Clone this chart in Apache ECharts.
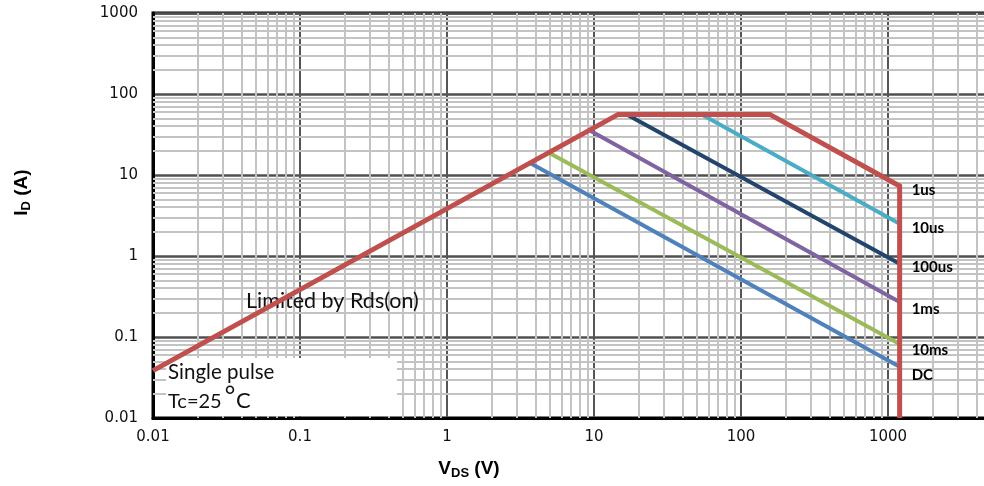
<!DOCTYPE html>
<html>
<head>
<meta charset="utf-8">
<script src="https://cdn.jsdelivr.net/npm/echarts@6/dist/echarts.min.js"></script>
<style>
  html, body { margin: 0; padding: 0; background: #fff; }
  #chart { width: 984px; height: 486px; }
</style>
</head>
<body>
<div id="chart"></div>
<script>
// Safe operating area, single pulse, Tc = 25 °C (log–log)

// Boundary limited by Rds(on), max current and power
const limitV = [0.01, 14.6, 157, 1200, 1200];
const limitI = [0.0385, 56, 56, 7.3, 0.01];

// Pulse-width lines: [start, end]
const us10V = [54, 1200];
const us10I = [56, 2.5];
const us100V = [16.7, 1200];
const us100I = [56, 0.8];
const ms1V = [9.5, 1200];
const ms1I = [35, 0.27];
const ms10V = [4.9, 1200];
const ms10I = [19, 0.082];
const dcV = [3.7, 1200];
const dcI = [14, 0.043];

const curveLabels = ['1us', '10us', '100us', '1ms', '10ms', 'DC'];
const curveColors = ['#C0504D', '#4BACC6', '#23446C', '#8064A2', '#9BBB59', '#4F81BD'];

// Decade grid
const xMin = 0.01, xMax = 10000;
const yMin = 0.01, yMax = 1000;

// Minor grid positions (2..9 in each decade)
const minorMult = [2, 3, 4, 5, 6, 7, 8, 9];
const xDecades = [0.01, 0.1, 1, 10, 100, 1000];
const yDecades = [0.01, 0.1, 1, 10, 100];

const minorX = [];
xDecades.forEach(d => minorMult.forEach(m => minorX.push(+(d * m).toPrecision(3))));
const minorY = [];
yDecades.forEach(d => minorMult.forEach(m => minorY.push(+(d * m).toPrecision(3))));

function pairs(xs, ys) { return xs.map((x, i) => [x, ys[i]]); }

const labelStyle = {
  fontFamily: 'Lato', fontWeight: 'bold', fontSize: 15, color: '#000',
  align: 'left', verticalAlign: 'middle'
};

function curve(name, xs, ys, color, width, labelIdx, label, dy) {
  const data = pairs(xs, ys).map((p, i) => {
    if (i !== labelIdx) return p;
    return {
      value: p,
      label: Object.assign({ show: true, position: [12, dy], formatter: label }, labelStyle)
    };
  });
  return {
    name, type: 'line', data, z: 10,
    symbol: 'circle', symbolSize: 0.01, showSymbol: true,
    itemStyle: { color },
    lineStyle: { color, width, cap: 'butt', join: 'miter' },
    label: { show: false },
    labelLayout: { hideOverlap: false },
    animation: false
  };
}

const titleRich = {
  v: { fontFamily: 'Liberation Sans', fontWeight: 'bold', fontSize: 19, color: '#000' },
  s: { fontFamily: 'Liberation Sans', fontWeight: 'bold', fontSize: 13, color: '#000', verticalAlign: 'bottom', padding: [9, 0, 0, 0] }
};

const chart = echarts.init(document.getElementById('chart'));
chart.setOption({
  animation: false,
  backgroundColor: '#fff',
  grid: {
    left: 153, top: 13, right: -51, bottom: 68,
    outerBoundsMode: 'none', containLabel: false,
    show: true, backgroundColor: '#fff', borderColor: '#000', borderWidth: 3
  },
  xAxis: {
    type: 'log', min: xMin, max: xMax, logBase: 10,
    axisLine: { show: true, lineStyle: { color: '#000', width: 3 } },
    axisTick: { show: false },
    axisLabel: {
      margin: 12, fontFamily: 'DejaVu Sans', fontSize: 15, color: '#111',
      formatter: v => (v > 1000 ? '' : String(v))
    },
    splitLine: { show: true, lineStyle: { color: '#555', width: 2 } },
    name: '{v|V}{s|DS}{v| (V)}',
    nameLocation: 'middle', nameGap: 40,
    nameTextStyle: { padding: [0, 250, 0, 0], rich: titleRich }
  },
  yAxis: {
    type: 'log', min: yMin, max: yMax, logBase: 10,
    axisLine: { show: true, lineStyle: { color: '#000', width: 3 } },
    axisTick: { show: false },
    axisLabel: {
      margin: 15, fontFamily: 'DejaVu Sans', fontSize: 15, color: '#111',
      formatter: v => String(v)
    },
    splitLine: { show: true, lineStyle: { color: '#505050', width: 2.5 } },
    name: '{v|I}{s|D}{v| (A)}',
    nameLocation: 'middle', nameGap: 120, nameRotate: 90,
    nameTextStyle: { padding: [0, 0, 0, 46], rich: titleRich }
  },
  graphic: [
    { type: 'rect', z: 6, shape: { x: 166, y: 358, width: 231, height: 58 }, style: { fill: '#fff' } },
    { type: 'text', z: 7, x: 168, y: 372, style: { text: 'Single pulse', font: '20.5px Lato', fill: '#111', verticalAlign: 'middle' } },
    { type: 'text', z: 7, x: 168, y: 402, style: { text: 'Tc=25', font: '20px Lato', fill: '#111', verticalAlign: 'middle' } },
    { type: 'text', z: 7, x: 224, y: 398, style: { text: '°', font: '30px "Liberation Sans"', fill: '#111', verticalAlign: 'middle' } },
    { type: 'text', z: 7, x: 236, y: 401, style: { text: 'C', font: '22px Lato', fill: '#111', verticalAlign: 'middle' } },
    { type: 'text', z: 7, x: 246, y: 301, style: { text: 'Limited by Rds(on)', font: '21.5px Lato', fill: '#111', verticalAlign: 'middle' } }
  ],
  series: [
    {
      name: 'minor', type: 'line', data: [], z: 1, silent: true,
      markLine: {
        z: 1, silent: true, symbol: 'none', animation: false,
        label: { show: false },
        lineStyle: { color: '#c3c3c3', width: 2, type: 'solid' },
        data: minorX.map(v => ({ xAxis: v })).concat(minorY.map(v => ({ yAxis: v })))
      }
    },
    curve('DC', dcV, dcI, curveColors[5], 4, 1, curveLabels[5], 8),
    curve('10ms', ms10V, ms10I, curveColors[4], 4, 1, curveLabels[4], 6),
    curve('1ms', ms1V, ms1I, curveColors[3], 4, 1, curveLabels[3], 7),
    curve('100us', us100V, us100I, curveColors[2], 4, 1, curveLabels[2], 3),
    curve('10us', us10V, us10I, curveColors[1], 4, 1, curveLabels[1], 4),
    curve('1us', limitV, limitI, curveColors[0], 5, 3, curveLabels[0], 4)
  ]
});
</script>
</body>
</html>
